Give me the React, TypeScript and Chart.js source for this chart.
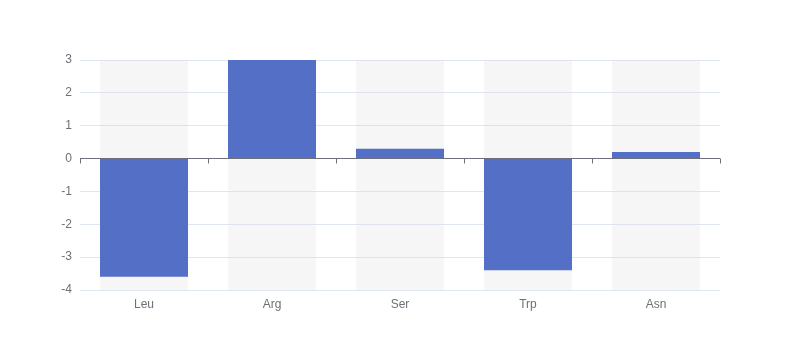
import React, { useEffect, useRef } from "react";
import { Chart, registerables } from "chart.js";

Chart.register(...registerables);

const categories = ["Leu", "Arg", "Ser", "Trp", "Asn"];
const values = [-3.6, 3.0, 0.3, -3.4, 0.2];
const yMin = -4;
const yMax = 3;
const yStep = 1;

const zeroAxisPlugin = {
  id: "zeroAxis",
  afterDatasetsDraw(chart: any) {
    const { ctx, chartArea, scales } = chart;
    const y0 = Math.floor(scales.y.getPixelForValue(0)) + 0.5;
    const n = categories.length;
    const w = (chartArea.right - chartArea.left) / n;
    ctx.save();
    ctx.strokeStyle = "#6E7079";
    ctx.lineWidth = 1;
    ctx.beginPath();
    ctx.moveTo(chartArea.left, y0);
    ctx.lineTo(chartArea.right, y0);
    for (let i = 0; i <= n; i++) {
      const x = Math.round(chartArea.left + i * w) + 0.5;
      ctx.moveTo(x, y0);
      ctx.lineTo(x, y0 + 5);
    }
    ctx.stroke();
    ctx.restore();
  },
};

export default function App() {
  const ref = useRef<HTMLCanvasElement>(null);
  useEffect(() => {
    document.body.style.margin = "0";
    const chart = new Chart(ref.current!, {
      type: "bar",
      data: {
        labels: categories,
        datasets: [
          {
            data: values,
            backgroundColor: "#5470c6",
            borderWidth: 0,
            grouped: false,
            order: 1,
            barPercentage: 0.6875,
            categoryPercentage: 1,
          } as any,
          {
            data: categories.map(() => [yMin, yMax]),
            backgroundColor: "rgba(215,215,215,0.22)",
            borderWidth: 0,
            grouped: false,
            order: 2,
            barPercentage: 0.6875,
            categoryPercentage: 1,
          } as any,
        ],
      },
      options: {
        responsive: false,
        animation: false,
        layout: { padding: { left: 0, right: 80, top: 60, bottom: 0 } },
        plugins: { legend: { display: false }, tooltip: { enabled: false } },
        scales: {
          x: {
            grid: { display: false, drawTicks: false },
            border: { display: false },
            ticks: { color: "#6E7079", font: { size: 12, family: "sans-serif" }, padding: 7 },
            afterFit: (s: any) => {
              s.height = 70;
            },
          },
          y: {
            min: yMin,
            max: yMax,
            ticks: { stepSize: yStep, color: "#6E7079", font: { size: 12, family: "sans-serif" }, padding: 8 },
            grid: {
              drawTicks: false,
              color: (c: any) => (c.tick && c.tick.value === 0 ? "rgba(0,0,0,0)" : "#E0E6F1"),
            },
            border: { display: false },
            afterFit: (s: any) => {
              s.width = 80;
            },
          },
        },
      },
      plugins: [zeroAxisPlugin],
    });
    return () => chart.destroy();
  }, []);
  return (
    <div style={{ width: 800, height: 360 }}>
      <canvas ref={ref} width={800} height={360} />
    </div>
  );
}
